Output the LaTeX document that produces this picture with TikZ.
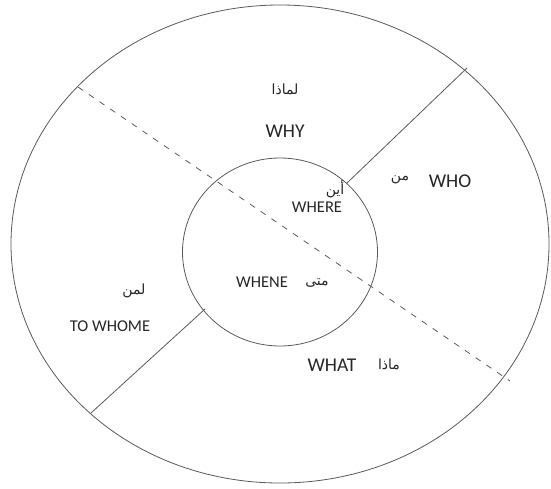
\documentclass[tikz,border=0pt]{standalone}
\usepackage{fontspec}
\setmainfont{Carlito}
\newfontfamily\arabicfont[Script=Arabic]{DejaVu Sans}
\TeXXeTstate=1
\newcommand{\artxt}[1]{{\arabicfont\beginR #1\endR}}
\tikzset{
  ring/.style={draw=black!65, line width=0.8pt},
  lbl/.style={text=black!85, font=\fontsize{19.5}{22}\selectfont, inner sep=1pt},
  smalllbl/.style={text=black!85, font=\fontsize{16.5}{19}\selectfont, inner sep=1pt},
  arlbl/.style={text=black!85, font=\fontsize{14}{16}\selectfont, inner sep=1pt}
}
\begin{document}
\begin{tikzpicture}[x=1pt, y=-1pt]
  \useasboundingbox (0,0) rectangle (551,488);
  % the two rings
  \draw[ring] (280,244) ellipse (269 and 239);
  \draw[ring] (280,252) ellipse (97.5 and 94);
  % ends of the dividing lines
  \coordinate (ne in) at (347,183);
  \coordinate (ne out) at (467,68);
  \coordinate (sw in) at (205,309);
  \coordinate (sw out) at (91,413);
  \coordinate (nw out) at (78,87);
  \coordinate (se out) at (510,381);
  \draw[ring] (ne in) -- (ne out);
  \draw[ring] (sw in) -- (sw out);
  \draw[ring, dash pattern=on 6pt off 7pt] (nw out) -- (se out);
  % labels
  \node[arlbl] (whyar) at (285,89) {\artxt{لماذا}};
  \node[lbl] (why) at (285,131) {WHY};
  \node[lbl] (who) at (450,181) {WHO};
  \node[arlbl] (whoar) at (400,180) {\artxt{من}};
  \node[arlbl] (wherear) at (335,189) {\artxt{أين}};
  \node[smalllbl] (where) at (317,207) {WHERE};
  \node[smalllbl] (whene) at (262,282) {WHENE};
  \node[arlbl] (whenar) at (317,283) {\artxt{متى}};
  \node[arlbl] (whomar) at (134,291) {\artxt{لمن}};
  \node[smalllbl] (whom) at (110,326) {TO WHOME};
  \node[lbl] (what) at (332,365) {WHAT};
  \node[arlbl] (whatar) at (389,364) {\artxt{ماذا}};
\end{tikzpicture}
\end{document}
